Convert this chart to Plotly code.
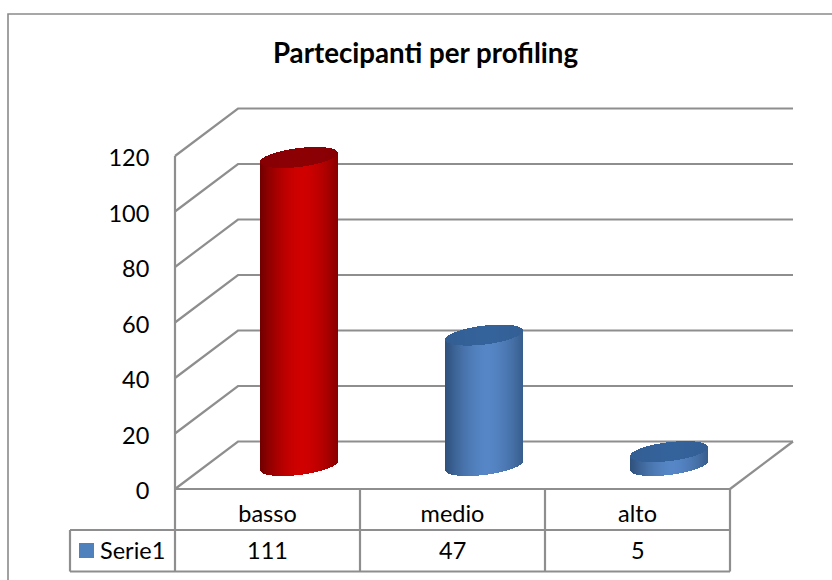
import numpy as np
import plotly.graph_objects as go

# ---- data ----
title = "Partecipanti per profiling"
categories = ["basso", "medio", "alto"]
values = [111, 47, 5]
series_name = "Serie1"
y_ticks = [0, 20, 40, 60, 80, 100, 120]

# ---- styles ----
GRID = "#8e8e8e"
FONT = "Lato, Carlito, sans-serif"
TXT = "#000000"
SIZE = 23.5
body_mid = [(208, 0, 0), (86, 134, 198), (86, 134, 198)]
body_edge = [(112, 0, 0), (46, 80, 122), (46, 80, 122)]
top_col = [(140, 0, 4), (52, 98, 154), (52, 98, 154)]
swatch = "#4f81bd"

# ---- geometry: plot box in pixels ----
W, H = 832, 580
L, R, T120, B = 175, 730, 156, 489
ppu_x = (R - L) / len(categories)
ppu_y = (B - T120) / max(y_ticks)
px = lambda p: (p - L) / ppu_x       # pixel column -> category units
py = lambda p: (B - p) / ppu_y       # pixel row -> value units
dx, dy = 63 / ppu_x, 47.5 / ppu_y    # depth of the floor
x_max = len(categories)
y_max = py(100)                      # head room so the top of the tall cylinder is not clipped
T = 100

fig = go.Figure()
shapes = []
annotations = []


def path_of(xs, ys):
    return "M" + " L".join("%.5f,%.5f" % (x / x_max, y / y_max) for x, y in zip(xs, ys))


def lines(xs, ys, width=2.2, color=GRID):
    """Polyline in data units, drawn behind the marks and not clipped to the plot box."""
    shapes.append(dict(type="path", path=path_of(xs, ys), xref="paper", yref="paper", layer="below",
                       line=dict(color=color, width=width)))


def label(x, y, text, anchor="center"):
    annotations.append(dict(x=x / x_max, y=y / y_max, xref="paper", yref="paper", text=text,
                            showarrow=False, xanchor=anchor, yanchor="middle",
                            font=dict(family=FONT, size=SIZE, color=TXT)))


# walls
for v in y_ticks:
    lines([0, dx, x_max + dx], [v, v + dy, v + dy])
# floor and axis
lines([x_max, x_max + dx], [0, dy])
lines([0, 0], [0, max(y_ticks)])

# table
row1, row2 = py(530), py(571.5)
for i in range(len(categories) + 1):
    lines([i, i], [0, row2])
lines([0, x_max], [0, 0])
lines([px(70), x_max], [row1, row1])
lines([px(70), x_max], [row2, row2])
lines([px(70), px(70)], [row1, row2])

# outer frame of the chart (open on the right and the bottom)
lines([px(W + 5), px(8), px(8)], [py(14), py(14), py(H + 5)], width=1.6, color="#8a8a8a")

# table values and legend key
for i, v in enumerate(values):
    label(i + 0.5, py(549.5), str(v))
label(px(98), py(549.5), series_name, anchor="left")
shapes.append(dict(type="path", xref="paper", yref="paper", layer="above", fillcolor=swatch, line_width=0,
                   path=path_of([px(79), px(94), px(94), px(79)], [py(543), py(543), py(558), py(558)]) + " Z"))


# cylinders: one bar per pixel column, shaded across the width
def mix(a, b, t):
    return "rgb(%d,%d,%d)" % tuple(round(a[k] + (b[k] - a[k]) * t) for k in range(3))


half_w = 39
ry = 9.5
tilt = 4.5
floor_mid = 23.5 / ppu_y   # value-units lift of the bar base on the floor
for i, v in enumerate(values):
    offs = np.arange(-half_w, half_w) + 0.5
    u = offs / half_w
    cx = i + 0.5 + px(L + 31.5)
    sx = cx + offs / ppu_x
    rim = ry * np.sqrt(1 - u ** 2) / ppu_y
    slope = tilt * u / ppu_y
    c0 = floor_mid + slope
    c1 = floor_mid + v + slope
    shade = np.clip(np.abs(u - 0.08) / 1.08, 0, 1) ** 1.7
    fig.add_trace(go.Bar(x=sx, y=(c1 - c0) + rim, base=c0 - rim, width=1 / ppu_x,
                         marker=dict(color=[mix(body_mid[i], body_edge[i], s) for s in shade], line_width=0),
                         hoverinfo="skip", showlegend=False))
    top = [mix(top_col[i], body_edge[i], 0.25 * s) for s in shade]
    fig.add_trace(go.Bar(x=sx, y=2 * rim, base=c1 - rim, width=1 / ppu_x,
                         marker=dict(color=top, line_width=0),
                         hoverinfo="skip", showlegend=False))

fig.update_layout(
    width=W, height=H, autosize=False,
    margin=dict(l=L, r=W - R, t=T, b=H - B, pad=0),
    paper_bgcolor="white", plot_bgcolor="rgba(0,0,0,0)",
    barmode="overlay", bargap=0, shapes=shapes, annotations=annotations,
    font=dict(family=FONT, color=TXT),
    title=dict(text="<b>%s</b>" % title, x=425.5 / W, xanchor="center", y=1 - 53 / H, yanchor="middle",
               font=dict(family=FONT, size=27.7, color=TXT)),
    xaxis=dict(range=[0, x_max], tickmode="array", tickvals=[i + 0.5 for i in range(len(categories))],
               ticktext=categories, showgrid=False, zeroline=False, showline=False,
               ticks="outside", ticklen=4, tickcolor="rgba(0,0,0,0)",
               tickfont=dict(family=FONT, size=SIZE, color=TXT)),
    yaxis=dict(range=[0, y_max], tickmode="array", tickvals=y_ticks, showgrid=False, zeroline=False,
               showline=False, ticks="outside", ticklen=20, tickcolor="rgba(0,0,0,0)",
               ticklabelshift=2,
               tickfont=dict(family=FONT, size=SIZE, color=TXT)),
)

fig.write_html("out.html", config=dict(displayModeBar=False),
               post_script="document.body.style.margin='0';document.documentElement.style.overflow='hidden';")
